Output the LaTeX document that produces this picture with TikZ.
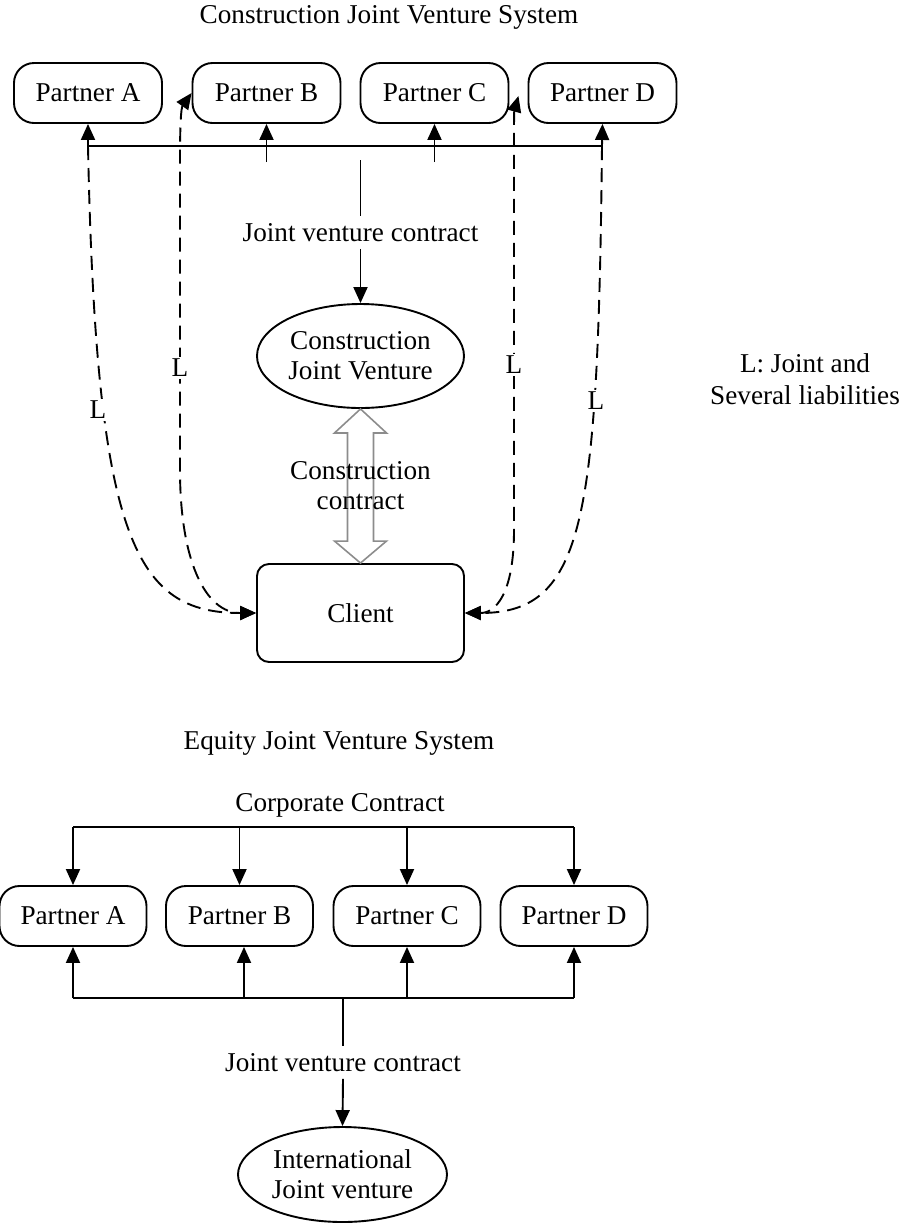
\documentclass[tikz,border=0pt]{standalone}
\usepackage{fontspec}
\setmainfont{Liberation Serif}
\usetikzlibrary{arrows.meta,calc,shapes.geometric}
\begin{document}
\begin{tikzpicture}[x=0.5pt,y=-0.5pt,
  font=\fontsize{13.6}{15}\selectfont,
  line width=0.95pt,
  >={Triangle[length=8pt,width=7pt]},
  partner/.style={draw,rounded corners=10pt,minimum width=74pt,minimum height=30pt,inner sep=0pt},
  venture/.style={draw,ellipse,inner sep=0pt,align=center},
  liab/.style={dash pattern=on 7pt off 4pt},
  lbl/.style={fill=white,inner sep=1pt},
  plain/.style={inner sep=0pt,align=center},
  dblarrow/.style={draw=black!45,line width=0.8pt}
]
\useasboundingbox (0,0) rectangle (905,1223);

% ---------- Construction joint venture system ----------
\node[plain] (t1) at (389,17) {Construction Joint Venture System};

\node[partner] (A) at (88,93)    {Partner A};
\node[partner] (B) at (266.5,93) {Partner B};
\node[partner] (C) at (434.5,93) {Partner C};
\node[partner] (D) at (602.5,93) {Partner D};

\coordinate (hA) at (88,146);
\coordinate (hD) at (602,146);
\coordinate (hB) at (266.5,162);
\coordinate (hC) at (434.5,162);
\coordinate (jtop) at (360.5,160);

\node[plain,minimum height=15.5pt] (jvc) at (360.5,232.5) {Joint venture contract};
\node[venture,minimum width=103.5pt,minimum height=52pt] (cjv) at (360.5,356)
  {\fontsize{13.6}{14}\selectfont Construction\\Joint Venture};
\node[draw,rounded corners=6pt,minimum width=103.5pt,minimum height=49pt] (client) at (360.5,613) {Client};

% contract lines to the partners
\draw (hA) -- (hD);
\draw[->] (hA) -- (A.south);
\draw[->] (hD) -- (D.south);
\draw[->] (hB) -- (B.south);
\draw[->] (hC) -- (C.south);
\draw (jtop) -- (jvc.north);
\draw[->] (jvc.south) -- (cjv.north);

% hollow double arrow for the construction contract
\draw[dblarrow] (cjv.south) -- ++(26,24) -- ++(-13,0)
  -- ($(client.north)+(13,-22)$) -- ++(13,0) -- (client.north)
  -- ++(-26,-22) -- ++(13,0) -- ($(cjv.south)+(-13,24)$) -- ++(-13,0) -- cycle;
\node[plain] (cc) at (360.5,486) {Construction\\contract};

% joint and several liabilities
\coordinate (ctip) at ($(C.east)+(9,3)$);
\draw[liab,->] (hA) .. controls (96,540) and (135,613) .. (client.west);
\draw[liab,<->] (B.west) .. controls (181,108) and (180,125) .. (180,160)
  -- (180,470) .. controls (180,560) and (205,613) .. (client.west);
\draw[liab,<->] (ctip) .. controls (514,112) and (514,130) .. (514,150)
  -- (514,530) .. controls (514,595) and (495,613) .. (client.east);
\draw[liab,->] (hD) .. controls (598,520) and (585,613) .. (client.east);

\node[lbl] (LA) at (98,410)  {L};
\node[lbl] (LB) at (180,368) {L};
\node[lbl] (LC) at (514,365) {L};
\node[lbl] (LD) at (596,401) {L};

\node[plain,font=\fontsize{13.6}{16}\selectfont] (key) at (805,379) {L: Joint and\\Several liabilities};

% ---------- Equity joint venture system ----------
\node[plain] (t2) at (339,743) {Equity Joint Venture System};
\node[plain] (corp) at (340,805) {Corporate Contract};

\node[partner,minimum width=73.5pt] (pA) at (73,916)    {Partner A};
\node[partner,minimum width=73.5pt] (pB) at (239.5,916) {Partner B};
\node[partner,minimum width=73.5pt] (pC) at (407,916)   {Partner C};
\node[partner,minimum width=73.5pt] (pD) at (574,916)   {Partner D};

\coordinate (cA) at (73,827);
\coordinate (cB) at (239.5,827);
\coordinate (cC) at (407,827);
\coordinate (cD) at (574,827);
\draw (cA) -- (cD);
\draw[->] (cA) -- (pA.north);
\draw[->] (cB) -- (pB.north);
\draw[->] (cC) -- (pC.north);
\draw[->] (cD) -- (pD.north);

\coordinate (bA) at (73,998);
\coordinate (bB) at (244,998);
\coordinate (bC) at (407,998);
\coordinate (bD) at (574,998);
\coordinate (bM) at (343,998);
\draw (bA) -- (bD);
\draw[->] (bA) -- (pA.south);
\draw[->] (bB) -- (bB |- pB.south);
\draw[->] (bC) -- (pC.south);
\draw[->] (bD) -- (pD.south);

\node[plain,minimum height=15.5pt] (jvc2) at (343,1062.5) {Joint venture contract};
\node[venture,minimum width=104.5pt,minimum height=47.5pt] (ijv) at (342.5,1174.5)
  {International\\Joint venture};
\draw (bM) -- (jvc2.north);
\draw[->] (jvc2.south) -- (ijv.north);
\end{tikzpicture}
\end{document}
